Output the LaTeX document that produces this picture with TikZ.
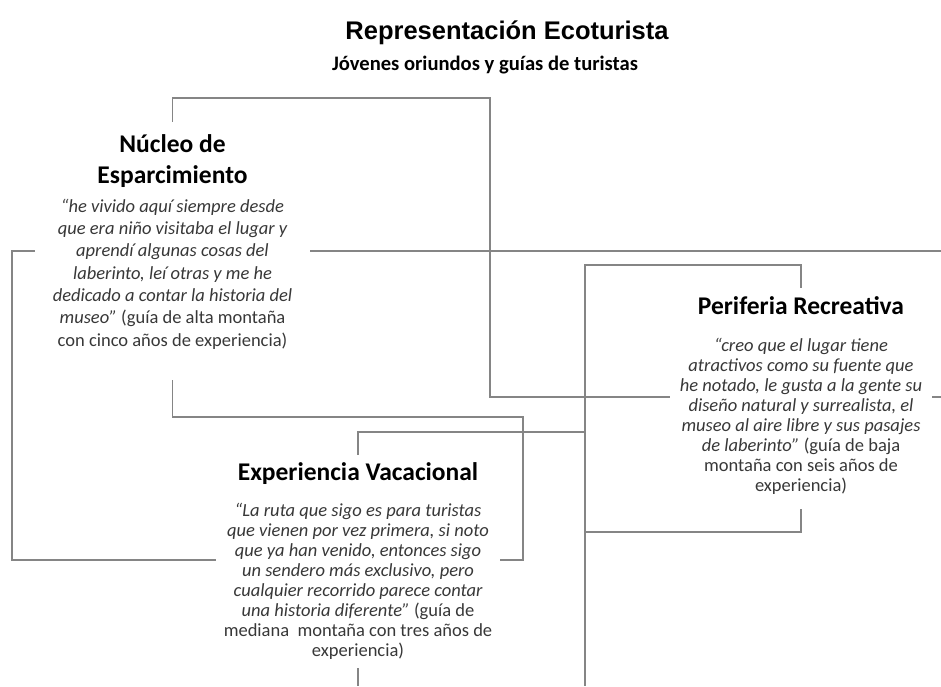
\documentclass[tikz,border=0pt]{standalone}
\usepackage{fontspec}
\setmainfont{Carlito}
\newfontfamily\arialfont{Liberation Sans}
\usepackage{tikz}
\usetikzlibrary{backgrounds}

\definecolor{linea}{HTML}{858585}
\definecolor{cita}{HTML}{383838}

\tikzset{
    bloque/.style={fill=white, inner sep=0pt, anchor=north},
    marco/.style={draw=linea, line width=1.2pt},
}

\begin{document}
\begin{tikzpicture}[x=1pt,y=-1pt]
    \useasboundingbox (0,0) rectangle (941,686);

    \node (titulo) at (507,33) {\arialfont\fontsize{25.5}{30}\selectfont\bfseries Representación Ecoturista};
    \node (subtitulo) at (485,65) {\fontsize{20.6}{24}\selectfont\bfseries Jóvenes oriundos y guías de turistas};

    \node[bloque] (nucleo) at (172.5,122) {\parbox[c][258pt][t]{275pt}{\centering
        \rule{0pt}{30pt}{\fontsize{25.5}{31}\selectfont\bfseries Núcleo de\\Esparcimiento\par}
        \vspace{6.7pt}
        {\fontsize{18.5}{22.3}\selectfont\itshape\leavevmode\color{cita}“he vivido aquí siempre desde\\
        que era niño visitaba el lugar y\\
        aprendí algunas cosas del\\
        laberinto, leí otras y me he\\
        dedicado a contar la historia del\\
        museo” {\upshape (guía de alta montaña\\
        con cinco años de experiencia)}\par}}};

    \node[bloque] (periferia) at (801,288) {\parbox[c][221pt][t]{262pt}{\centering
        \rule{0pt}{26pt}{\fontsize{25.5}{31}\selectfont\bfseries Periferia Recreativa\par}
        \vspace{17pt}
        {\fontsize{18.5}{20}\selectfont\itshape\leavevmode\color{cita}“creo que el lugar tiene\\
        atractivos como su fuente que\\
        he notado, le gusta a la gente su\\
        diseño natural y surrealista, el\\
        museo al aire libre y sus pasajes\\
        de laberinto” {\upshape (guía de baja\\
        montaña con seis años de\\
        experiencia)}\par}}};

    \node[bloque] (vacacional) at (358,455) {\parbox[c][213pt][t]{284pt}{\centering
        \rule{0pt}{25pt}{\fontsize{25.5}{31}\selectfont\bfseries Experiencia Vacacional\par}
        \vspace{15.7pt}
        {\fontsize{18.5}{20.1}\selectfont\itshape\leavevmode\color{cita}“La ruta que sigo es para turistas\\
        que vienen por vez primera, si noto\\
        que ya han venido, entonces sigo\\
        un sendero más exclusivo, pero\\
        cualquier recorrido parece contar\\
        una historia diferente” {\upshape (guía de\\
        mediana\ \ montaña con tres años de\\
        experiencia)}\par}}};

    \begin{scope}[on background layer]
    \fill[white] (0,0) rectangle (941,686);
    \draw[marco] (nucleo.north) |- (490,98) |- (941,397);
    \draw[marco] (941,251) -| (12,560) -| (523,417) -| (nucleo.south);
    \draw[marco] (periferia.north) |- (585,265) -- (585,686);
    \draw[marco] (periferia.south) |- (585,532);
    \draw[marco] (vacacional.north) |- (585,432);
    \draw[marco] (vacacional.south) -- ++(0,18);
    \end{scope}
\end{tikzpicture}
\end{document}
